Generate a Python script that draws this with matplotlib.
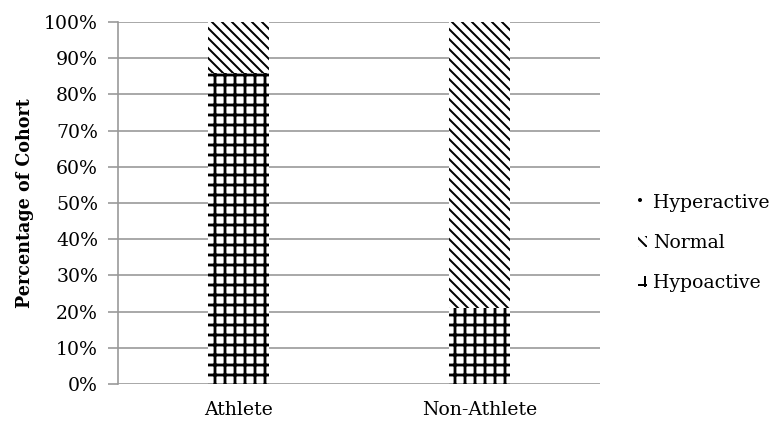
import matplotlib.pyplot as plt
from matplotlib.patches import Patch
from matplotlib.ticker import PercentFormatter

plt.rcParams['font.family'] = ['DejaVu Serif']

groups = ['Athlete', 'Non-Athlete']
hypoactive = [86, 21]
normal = [14, 79]
hyperactive = [0, 0]

# 120 dpi so the hatch grid is ~10px like the original
fig = plt.figure(figsize=(773 / 120, 421 / 120), dpi=120)
ax = fig.add_axes([0.1527, 0.0879, 0.6235, 0.8598])

x = range(len(groups))
w = 0.25
plt.rcParams['hatch.linewidth'] = 1.7
ax.bar(x, hypoactive, w, color='white', edgecolor='black', hatch='++', linewidth=0, zorder=3)
h_grid = Patch(facecolor='white', edgecolor='black', hatch='++', linewidth=0)
plt.rcParams['hatch.linewidth'] = 1.2
ax.bar(x, normal, w, bottom=hypoactive, color='white', edgecolor='black', hatch='\\\\\\\\', linewidth=0, zorder=3)
h_diag = Patch(facecolor='white', edgecolor='black', hatch='\\\\\\\\', linewidth=0)
bot2 = [a + b for a, b in zip(hypoactive, normal)]
ax.bar(x, hyperactive, w, bottom=bot2, color='white', edgecolor='black', hatch='..', linewidth=0, zorder=3)
h_dot = Patch(facecolor='white', edgecolor='black', hatch='..', linewidth=0)

ax.set_xlim(-0.5, 1.5)
ax.set_ylim(0, 100)
ax.set_yticks(range(0, 101, 10))
ax.yaxis.set_major_formatter(PercentFormatter(decimals=0))
ax.set_xticks(list(x))
ax.set_xticklabels(groups)
ax.tick_params(axis='y', labelsize=11.3, length=6, color='#999999', width=1.0, pad=6)
ax.tick_params(axis='x', labelsize=11.3, length=0, pad=10)
ax.grid(axis='y', color='#999999', linewidth=1.0, zorder=0)
for s in ['top', 'right', 'bottom']:
    ax.spines[s].set_visible(False)
ax.spines['left'].set_color('#999999')
ax.spines['left'].set_linewidth(1.0)
ax.set_ylabel('Percentage of Cohort', fontsize=10.5, fontweight='bold', labelpad=6)

fig.legend([h_dot, h_diag, h_grid], ['Hyperactive', 'Normal', 'Hypoactive'], loc='center left',
           bbox_to_anchor=(0.803, 0.423), frameon=False, fontsize=11.3,
           handlelength=0.5, handleheight=0.5, handletextpad=0.3, labelspacing=1.18)

fig.savefig('out.png', dpi=120)
